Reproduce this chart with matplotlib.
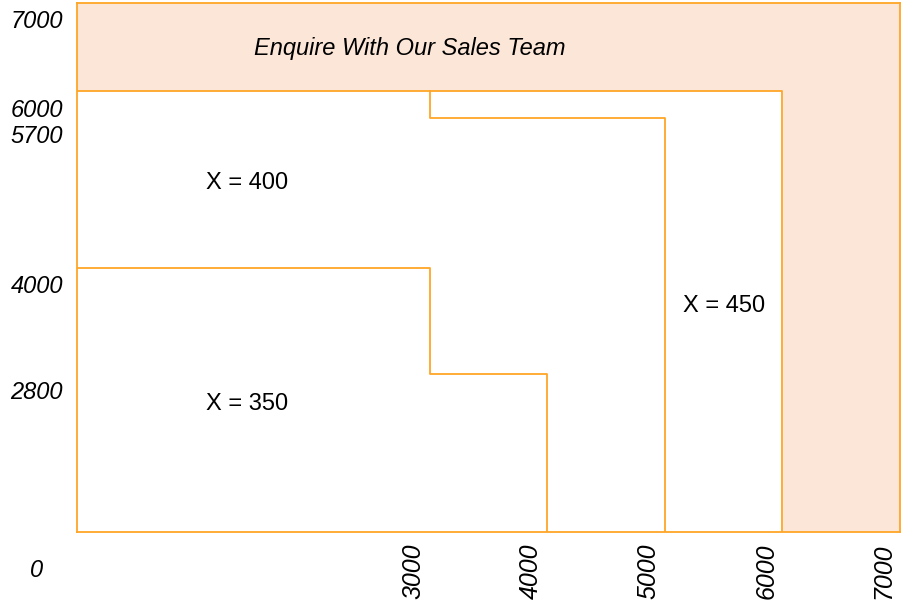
import numpy as np
import matplotlib.pyplot as plt
from matplotlib.scale import FuncScale

# axis ticks
x_ticks = [3000, 4000, 5000, 6000, 7000]
y_ticks = [2800, 4000, 5700, 6000, 7000]

# region boundaries
edge_350_x = [0, 3000, 3000, 4000, 4000]
edge_350_y = [4000, 4000, 2800, 2800, 0]
edge_400_x = [3000, 3000, 5000, 5000]
edge_400_y = [6000, 5700, 5700, 0]
edge_450_x = [0, 6000, 6000]
edge_450_y = [6000, 6000, 0]
limit = 7000

# labels
region_labels = ["X = 400", "X = 350", "X = 450"]
region_pos = [(1450, 4960), (1450, 2270), (5500, 3570)]
enquire_label = "Enquire With Our Sales Team"
enquire_pos = (2830, 6490)

orange = "#FFA526"
peach = "#FCE6D8"

plt.rcParams['font.family'] = ['Liberation Sans', 'DejaVu Sans']

fig, ax = plt.subplots(figsize=(9.13, 6.04), dpi=100)
fig.subplots_adjust(left=77/913, right=900/913, top=1-3/604, bottom=1-532/604)

# y axis is squeezed below 2800
yk = [0, 2800, 7000]
yv = [0, 1580, 5290]
ax.set_yscale(FuncScale(ax.yaxis, (lambda y: np.interp(y, yk, yv), lambda y: np.interp(y, yv, yk))))
ax.set_xlim(0, limit)
ax.set_ylim(0, limit)

# peach enquire zone, white inside
ax.fill([0, limit, limit, 0], [0, 0, limit, limit], color=peach, zorder=0)
ax.fill([0, edge_450_x[1], edge_450_x[1], 0], [0, 0, edge_450_y[0], edge_450_y[0]], color="white", zorder=1)

ax.plot(edge_450_x, edge_450_y, color=orange, lw=1.3, zorder=2)
ax.plot(edge_400_x, edge_400_y, color=orange, lw=1.3, zorder=2)
ax.plot(edge_350_x, edge_350_y, color=orange, lw=1.3, zorder=2)

for s in ax.spines.values():
    s.set_color(orange)
    s.set_linewidth(1.3)

ax.set_xticks([])
ax.set_yticks([])

for t in y_ticks:
    ax.annotate(str(t), xy=(0, t), xycoords=('axes fraction', 'data'),
                xytext=(-10, -13.5), textcoords='offset points',
                ha='right', va='center', fontsize=17, style='italic')
for t in x_ticks:
    ax.annotate(str(t), xy=(t, 0), xycoords=('data', 'axes fraction'),
                xytext=(-3, -8), textcoords='offset points',
                ha='right', va='top', rotation=90, fontsize=18, style='italic')
ax.annotate("0", xy=(0, 0), xycoords='axes fraction', xytext=(-29, -28),
            textcoords='offset points', ha='center', va='center',
            fontsize=17, style='italic')

for lab, (x, y) in zip(region_labels, region_pos):
    ax.text(x, y, lab, ha='center', va='center', fontsize=17, zorder=3)
ax.text(enquire_pos[0], enquire_pos[1], enquire_label, ha='center', va='center',
        fontsize=17, style='italic', zorder=3)

plt.savefig("out.png", dpi=100)
